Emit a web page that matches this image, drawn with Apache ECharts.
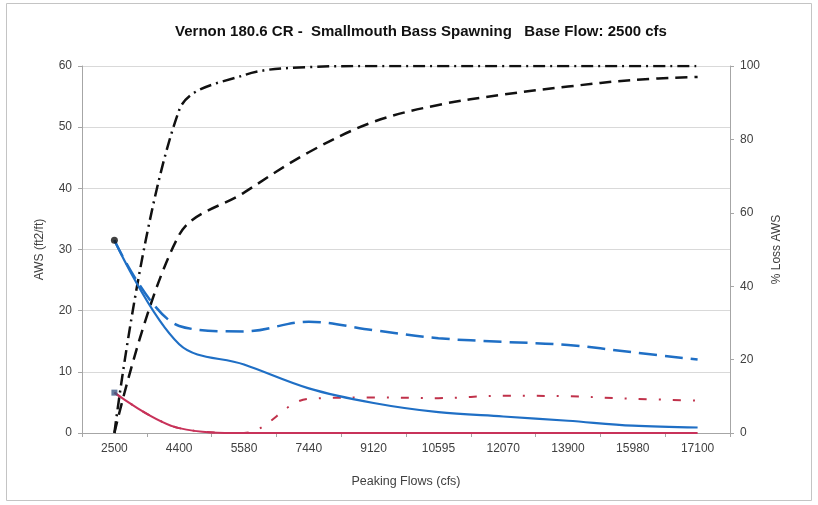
<!DOCTYPE html>
<html>
<head>
<meta charset="utf-8">
<script src="https://cdn.jsdelivr.net/npm/echarts@6/dist/echarts.min.js"></script>
<style>
html,body{margin:0;padding:0;background:#fff;}
#main{width:818px;height:505px;}
</style>
</head>
<body>
<div id="main"></div>
<script>
// ---- data ----
const categories = ['2500','4400','5580','7440','9120','10595','12070','13900','15980','17100'];
const awsBlueSolid  = [31.5, 14.5, 11.2, 7.3, 4.9, 3.4, 2.7, 2.0, 1.2, 0.9];
const awsBlueDashed = [31.5, 17.5, 16.6, 18.2, 16.8, 15.5, 14.9, 14.4, 13.2, 12.0];
const awsRedSolid   = [6.6, 0.8, 0, 0, 0, 0, 0, 0, 0, 0];
const awsRedDashDot = [6.6, 0.8, 0, 5.6, 5.8, 5.7, 6.1, 6.0, 5.6, 5.3];
const lossDashDot   = [0, 88, 97.5, 99.7, 100, 100, 100, 100, 100, 100];
const lossDashed    = [0, 54, 65.5, 76.5, 84.8, 89.4, 92.2, 94.4, 96.2, 97.0];

const titleText = 'Vernon 180.6 CR -  Smallmouth Bass Spawning   Base Flow: 2500 cfs';
const xName = 'Peaking Flows (cfs)';
const yLeftName = 'AWS (ft2/ft)';
const yRightName = '% Loss AWS';

const FONT = '"Liberation Sans", Arial, sans-serif';
const LABEL = '#404040';
const chart = echarts.init(document.getElementById('main'));

function lineSeries(name, data, yIdx, color, width, dash) {
  return {
    name: name, type: 'line', data: data, yAxisIndex: yIdx,
    smooth: 0.35, symbol: 'none', clip: true,
    lineStyle: { color: color, width: width, type: dash, cap: 'butt' },
    itemStyle: { color: color }
  };
}

chart.setOption({
  backgroundColor: '#fff',
  animation: false,
  title: {
    text: titleText, left: 416, top: 19, textAlign: 'center',
    textStyle: { fontFamily: FONT, fontSize: 15, fontWeight: 'bold', color: '#111' }
  },
  graphic: [{
    type: 'rect', shape: { x: 6.5, y: 3.5, width: 805, height: 497 },
    style: { fill: 'none', stroke: '#c4c4c4', lineWidth: 1 }, z: -1
  }],
  grid: { left: 82, right: 88, top: 66, bottom: 72 },
  xAxis: {
    type: 'category', data: categories, boundaryGap: true,
    name: xName, nameLocation: 'middle', nameGap: 42,
    nameTextStyle: { fontFamily: FONT, fontSize: 12.5, color: LABEL },
    axisLine: { lineStyle: { color: '#a6a6a6', width: 1 } },
    axisTick: { show: true, length: 4, lineStyle: { color: '#a6a6a6' } },
    axisLabel: { fontFamily: FONT, fontSize: 12, color: LABEL, margin: 10, interval: 0 },
    splitLine: { show: false }
  },
  yAxis: [{
    type: 'value', min: 0, max: 60, interval: 10, position: 'left',
    name: yLeftName, nameLocation: 'middle', nameGap: 36,
    nameTextStyle: { fontFamily: FONT, fontSize: 12, color: LABEL },
    axisLine: { show: true, lineStyle: { color: '#a6a6a6' } },
    axisTick: { show: true, length: 4, lineStyle: { color: '#a6a6a6' } },
    axisLabel: { fontFamily: FONT, fontSize: 12, color: LABEL, margin: 10 },
    splitLine: { show: true, lineStyle: { color: '#d9d9d9', width: 1 } }
  }, {
    type: 'value', min: 0, max: 100, interval: 20, position: 'right',
    name: yRightName, nameLocation: 'middle', nameGap: 38,
    nameTextStyle: { fontFamily: FONT, fontSize: 12, color: LABEL },
    axisLine: { show: true, lineStyle: { color: '#a6a6a6' } },
    axisTick: { show: true, length: 4, lineStyle: { color: '#a6a6a6' } },
    axisLabel: { fontFamily: FONT, fontSize: 12, color: LABEL, margin: 10 },
    splitLine: { show: false }
  }],
  series: [
    lineSeries('Loss dash-dot', lossDashDot, 1, '#111111', 2.5, [12, 5, 2, 5]),
    lineSeries('Loss dashed', lossDashed, 1, '#111111', 2.5, [12, 7]),
    lineSeries('Red dash-dot', awsRedDashDot, 0, '#c0314a', 2, [8, 12, 2, 12]),
    lineSeries('Red solid', awsRedSolid, 0, '#c8325a', 2, 'solid'),
    lineSeries('Blue dashed', awsBlueDashed, 0, '#1f6fc5', 2.5, [18, 8]),
    lineSeries('Blue solid', awsBlueSolid, 0, '#1f6fc5', 2.2, 'solid'),
    {
      type: 'scatter', yAxisIndex: 0, symbol: 'circle', symbolSize: 7,
      itemStyle: { color: '#111' }, z: 5,
      data: [[categories[0], awsBlueSolid[0]]]
    },
    {
      type: 'scatter', yAxisIndex: 0, symbol: 'rect', symbolSize: 6,
      itemStyle: { color: '#3d5a85' }, z: 5,
      data: [[categories[0], awsRedSolid[0]]]
    }
  ]
});
</script>
</body>
</html>
